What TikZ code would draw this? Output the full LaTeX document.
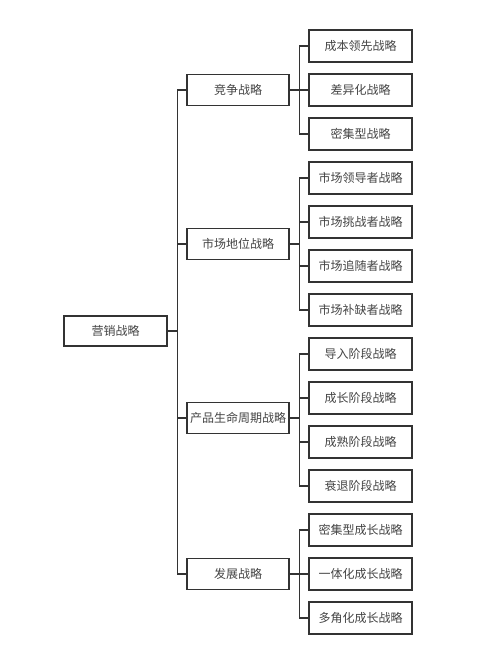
\documentclass[tikz,border=0pt]{standalone}
\usepackage{fontspec}
\setmainfont{Noto Sans CJK SC}
\usepackage{tikz}

\definecolor{linegray}{RGB}{51,51,51}
\definecolor{textgray}{RGB}{68,68,68}

\tikzset{
  box/.style={draw=linegray, line width=1pt, fill=white, text=textgray,
    inner sep=0pt, font=\fontsize{9}{11}\selectfont},
  rootbox/.style={box, minimum width=77.25pt, minimum height=22.5pt},
  midbox/.style={box, minimum width=76.5pt, minimum height=23.25pt},
  leafbox/.style={box, minimum width=77.25pt, minimum height=24pt},
  link/.style={draw=linegray, line width=1.1pt}
}

\begin{document}
\begin{tikzpicture}[x=0.75pt,y=0.75pt,yscale=-1,xscale=1]
        \useasboundingbox (0,0) rectangle (500,650);
        % root
        \node [rootbox] (root) at (115.5,331) {营销战略};
        % second level
        \node [midbox] (jz) at (238,90) {竞争战略};
        \node [midbox] (dw) at (238,244) {市场地位战略};
        \node [midbox] (zq) at (238,418) {产品生命周期战略};
        \node [midbox] (fz) at (238,574) {发展战略};
        % leaves
        \node [leafbox] (jz1) at (360.5,46) {成本领先战略};
        \node [leafbox] (jz2) at (360.5,90) {差异化战略};
        \node [leafbox] (jz3) at (360.5,134) {密集型战略};
        \node [leafbox] (dw1) at (360.5,178) {市场领导者战略};
        \node [leafbox] (dw2) at (360.5,222) {市场挑战者战略};
        \node [leafbox] (dw3) at (360.5,266) {市场追随者战略};
        \node [leafbox] (dw4) at (360.5,310) {市场补缺者战略};
        \node [leafbox] (zq1) at (360.5,354) {导入阶段战略};
        \node [leafbox] (zq2) at (360.5,398) {成长阶段战略};
        \node [leafbox] (zq3) at (360.5,442) {成熟阶段战略};
        \node [leafbox] (zq4) at (360.5,486) {衰退阶段战略};
        \node [leafbox] (fz1) at (360.5,530) {密集型成长战略};
        \node [leafbox] (fz2) at (360.5,574) {一体化成长战略};
        \node [leafbox] (fz3) at (360.5,618) {多角化成长战略};
        % connectors
        \foreach \m in {jz,dw,zq,fz}
            \draw [link] (root.east) -- ++(10,0) |- (\m.west);
        \foreach \l in {jz1,jz2,jz3}
            \draw [link] (jz.east) -- ++(10,0) |- (\l.west);
        \foreach \l in {dw1,dw2,dw3,dw4}
            \draw [link] (dw.east) -- ++(10,0) |- (\l.west);
        \foreach \l in {zq1,zq2,zq3,zq4}
            \draw [link] (zq.east) -- ++(10,0) |- (\l.west);
        \foreach \l in {fz1,fz2,fz3}
            \draw [link] (fz.east) -- ++(10,0) |- (\l.west);
    \end{tikzpicture}
\end{document}
